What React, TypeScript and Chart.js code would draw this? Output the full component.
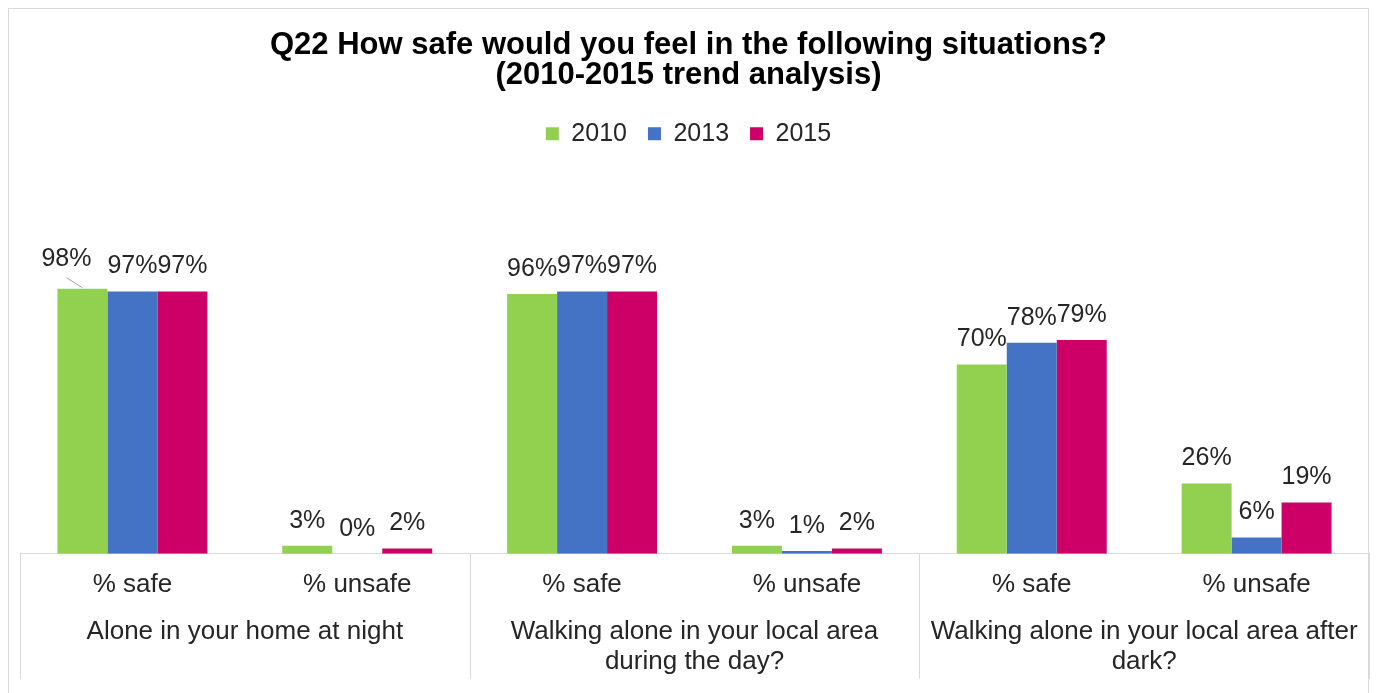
import React, { useEffect, useRef } from "react";
import { Chart, registerables } from "chart.js";

Chart.register(...registerables);

const categories = ["% safe", "% unsafe", "% safe", "% unsafe", "% safe", "% unsafe"];
const groupLabels = [
  ["Alone in your home at night"],
  ["Walking alone in your local area", "during the day?"],
  ["Walking alone in your local area after", "dark?"],
];
const seriesNames = ["2010", "2013", "2015"];
const values2010 = [98, 3, 96, 3, 70, 26];
const values2013 = [97, 0, 97, 1, 78, 6];
const values2015 = [97, 2, 97, 2, 79, 19];
const seriesColors = ["#92D050", "#4472C4", "#CC0066"];
const titleLines = [
  "Q22 How safe would you feel in the following situations?",
  "(2010-2015 trend analysis)",
];

const FONT = '"Liberation Sans", Arial, Helvetica, sans-serif';
const TEXT = "#262626";
const LINE = "#d9d9d9";

const framePlugin = {
  id: "frame",
  beforeDraw(chart: any) {
    const ctx = chart.ctx;
    ctx.save();
    ctx.fillStyle = "#ffffff";
    ctx.fillRect(0, 0, chart.width, chart.height);
    ctx.strokeStyle = LINE;
    ctx.lineWidth = 1;
    ctx.strokeRect(8.5, 8.5, 1360, 720);
    ctx.restore();
  },
};

const valueLabelPlugin = {
  id: "valueLabels",
  afterDatasetsDraw(chart: any) {
    const ctx = chart.ctx;
    ctx.save();
    ctx.font = `25px ${FONT}`;
    ctx.fillStyle = TEXT;
    ctx.textAlign = "center";
    ctx.textBaseline = "middle";
    chart.data.datasets.forEach((ds: any, i: number) => {
      const meta = chart.getDatasetMeta(i);
      meta.data.forEach((bar: any, j: number) => {
        let x = bar.x;
        let y = bar.y - 25;
        if (i === 0 && j === 0) {
          // label moved aside with a leader line, as in the original
          x -= 16;
          y -= 5;
          ctx.save();
          ctx.strokeStyle = "#a6a6a6";
          ctx.lineWidth = 1;
          ctx.beginPath();
          ctx.moveTo(x, y + 19);
          ctx.lineTo(bar.x, bar.y - 1);
          ctx.stroke();
          ctx.restore();
        }
        ctx.fillText(`${ds.data[j]}%`, x, y);
      });
    });
    ctx.restore();
  },
};

const groupAxisPlugin = {
  id: "groupAxis",
  afterDraw(chart: any) {
    const ctx = chart.ctx;
    const xs = chart.scales.x;
    const top = chart.chartArea.bottom;
    const n = categories.length;
    const catW = (xs.right - xs.left) / n;
    ctx.save();
    ctx.strokeStyle = LINE;
    ctx.lineWidth = 1;
    for (let g = 0; g <= groupLabels.length; g++) {
      const px = Math.round(xs.left + g * 2 * catW) + 0.5;
      ctx.beginPath();
      ctx.moveTo(px, top);
      ctx.lineTo(px, top + 125);
      ctx.stroke();
    }
    ctx.font = `26px ${FONT}`;
    ctx.fillStyle = TEXT;
    ctx.textAlign = "center";
    ctx.textBaseline = "middle";
    groupLabels.forEach((lines, g) => {
      const cx = (xs.getPixelForValue(2 * g) + xs.getPixelForValue(2 * g + 1)) / 2;
      lines.forEach((line, k) => {
        ctx.fillText(line, cx, top + 78 + k * 30);
      });
    });
    ctx.restore();
  },
};

export default function App() {
  const ref = useRef<HTMLCanvasElement | null>(null);

  useEffect(() => {
    if (!ref.current) return;
    const seriesValues = [values2010, values2013, values2015];
    const chart = new Chart(ref.current, {
      type: "bar",
      data: {
        labels: categories,
        datasets: seriesNames.map((name, i) => ({
          label: name,
          data: seriesValues[i],
          backgroundColor: seriesColors[i],
          borderWidth: 0,
          categoryPercentage: 0.667,
          barPercentage: 1,
        })),
      },
      options: {
        responsive: false,
        animation: false,
        events: [],
        layout: { padding: { top: 10, left: 8, right: 7, bottom: 78 } },
        plugins: {
          title: {
            display: true,
            text: titleLines,
            color: "#000000",
            font: { family: FONT, size: 31, weight: "bold", lineHeight: 0.97 },
            padding: { top: 20, bottom: 10 },
          },
          legend: {
            display: true,
            labels: {
              boxWidth: 13,
              boxHeight: 13,
              padding: 21,
              color: TEXT,
              font: { family: FONT, size: 25 },
            },
          },
          tooltip: { enabled: false },
        },
        scales: {
          x: {
            grid: { display: false, drawTicks: false },
            border: { display: true, color: LINE, width: 1 },
            ticks: {
              color: TEXT,
              font: { family: FONT, size: 26 },
              padding: 15,
              maxRotation: 0,
              autoSkip: false,
            },
          },
          y: {
            min: 0,
            max: 147,
            display: true,
            afterFit: (s: any) => {
              s.width = 12;
            },
            grid: { display: false, drawTicks: false },
            border: { display: false },
            ticks: { display: false },
          },
        },
      } as any,
      plugins: [framePlugin, valueLabelPlugin, groupAxisPlugin],
    });
    return () => chart.destroy();
  }, []);

  return (
    <div style={{ position: "fixed", left: 0, top: 0, width: 1376, height: 693, overflow: "hidden", background: "#fff" }}>
      <canvas ref={ref} width={1376} height={693} style={{ display: "block", width: 1376, height: 693 }} />
    </div>
  );
}
